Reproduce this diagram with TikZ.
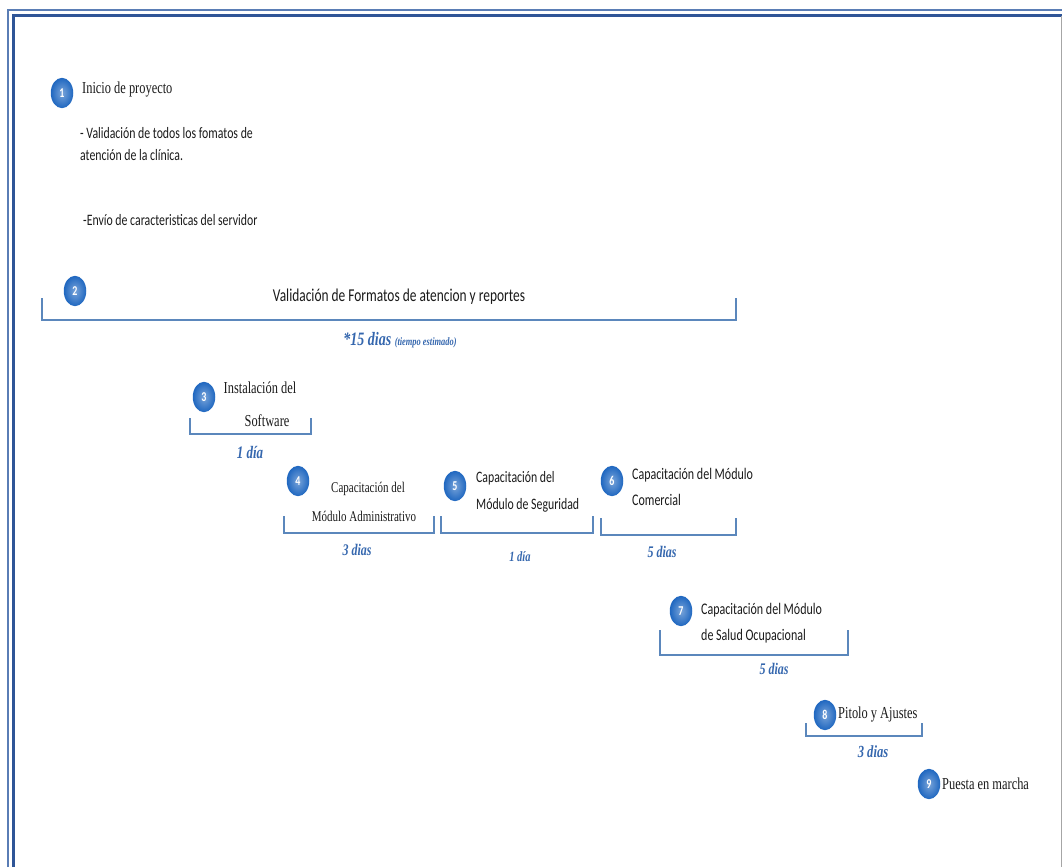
\documentclass[tikz,border=0pt]{standalone}
\usepackage{fontspec}
\setmainfont{Liberation Serif}
\newfontfamily\calibri{Carlito}
\usepackage{tikz}
\usetikzlibrary{positioning}
\definecolor{framecolor}{HTML}{2F5597}
\definecolor{framelight}{HTML}{5A7DB5}
\definecolor{numcolor}{HTML}{1F67C0}
\definecolor{brkcolor}{HTML}{5B87BC}
\definecolor{durcolor}{HTML}{3567AE}
\definecolor{txtcolor}{HTML}{1A1A1A}

\begin{document}
\begin{tikzpicture}[
    x=1pt, y=-1pt,
    every node/.style={inner sep=0pt, text=txtcolor},
    tall/.style={yscale=1.35, transform shape},
    num/.style={circle, minimum size=22.5pt, yscale=1.35, transform shape,
                inner color=numcolor!60!white, outer color=numcolor, text=white,
                font=\calibri\bfseries\fontsize{10}{11}\selectfont},
    sanslbl/.style={tall, anchor=west, align=left,
                    font=\calibri\fontsize{12}{19.3}\selectfont},
    seriflbl/.style={tall, anchor=west, align=left,
                     font=\fontsize{12.4}{14}\selectfont},
    dur/.style={tall, text=durcolor, font=\itshape\bfseries\fontsize{12}{13}\selectfont},
    brk/.style={draw=brkcolor, line width=1.1pt},
]
    \useasboundingbox (0,0) rectangle (1062,867);

    % Frame
    \draw[framelight, line width=2pt] (8,867) -- (8,10) -- (1062,10);
    \draw[framecolor, line width=2.4pt] (13.5,867) -- (13.5,15.5) -- (1062,15.5);
    \draw[black!35, line width=0.8pt] (1061,16) -- (1061,867);

    % Step 1
    \node[num] (n1) at (62,93) {1};
    \node[seriflbl] (t1) at (82,89) {Inicio de proyecto};
    \node[sanslbl, font=\calibri\fontsize{11.8}{16.3}\selectfont] (t1a) at (80,144)
         {- Validación de todos los fomatos de\\atención de la clínica.};
    \node[sanslbl, font=\calibri\fontsize{11.8}{14}\selectfont] (t1b) at (83,220)
         {-Envío de caracteristicas del servidor};

    % Step 2
    \node[num] (n2) at (75,291) {2};
    \node[tall, font=\calibri\fontsize{13.4}{15}\selectfont] (t2) at (399,297)
         {Validación de Formatos de atencion y reportes};
    \draw[brk] (42,298) |- (736,320) -- (736,298);
    \node[dur] (d2) at (400,340)
         {\fontsize{14}{15}\selectfont*15 dias {\fontsize{8.4}{9}\selectfont(tiempo estimado)}};

    % Step 3
    \node[num] (n3) at (204,397) {3};
    \node[seriflbl, anchor=center, align=center, font=\fontsize{12.4}{24.4}\selectfont] (t3) at (260,404.5)
         {Instalación del\\\hspace*{14pt}Software};
    \draw[brk] (190,418) |- (311,434) -- (311,418);
    \node[dur, font=\itshape\bfseries\fontsize{13}{14}\selectfont] (d3) at (250,452) {1 día};

    % Step 4
    \node[num] (n4) at (298,481) {4};
    \node[seriflbl, anchor=center, align=center, font=\fontsize{11}{21.5}\selectfont] (t4) at (364,501.5)
         {\hspace*{8pt}Capacitación del\\Módulo Administrativo};
    \draw[brk] (284,516) |- (434,533) -- (434,516);
    \node[dur] (d4) at (357,550) {3 dias};

    % Step 5
    \node[num] (n5) at (455,486) {5};
    \node[sanslbl, font=\calibri\fontsize{11.8}{20}\selectfont] (t5) at (476,491.5)
         {Capacitación del\\Módulo de Seguridad};
    \draw[brk] (441,516) |- (593,533) -- (593,516);
    \node[dur, font=\itshape\bfseries\fontsize{10.5}{12}\selectfont] (d5) at (520,557) {1 día};

    % Step 6
    \node[num] (n6) at (612,481) {6};
    \node[sanslbl] (t6) at (632,487)
         {Capacitación del Módulo\\Comercial};
    \draw[brk] (601,518) |- (736,535) -- (736,518);
    \node[dur] (d6) at (662,552) {5 dias};

    % Step 7
    \node[num] (n7) at (681,611) {7};
    \node[sanslbl] (t7) at (701,623)
         {Capacitación del Módulo\\de Salud Ocupacional};
    \draw[brk] (660,630) |- (848,655) -- (848,630);
    \node[dur] (d7) at (774,669) {5 dias};

    % Step 8
    \node[num] (n8) at (825,715) {8};
    \node[seriflbl] (t8) at (838,714) {Pitolo y Ajustes};
    \draw[brk] (806,723) |- (922,736) -- (922,723);
    \node[dur, font=\itshape\bfseries\fontsize{12.6}{14}\selectfont] (d8) at (873,752) {3 dias};

    % Step 9
    \node[num] (n9) at (929,784) {9};
    \node[seriflbl] (t9) at (942,784) {Puesta en marcha};
\end{tikzpicture}
\end{document}
